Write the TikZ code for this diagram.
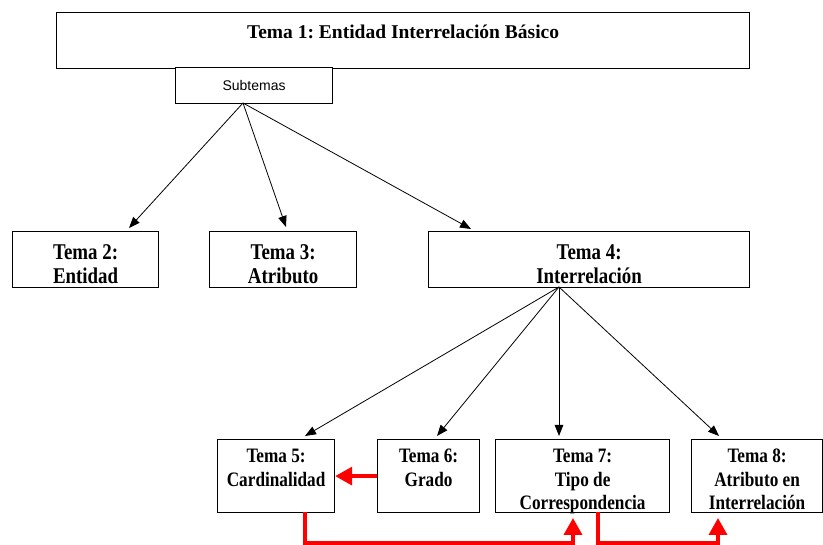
\documentclass[tikz,border=0pt]{standalone}
\usepackage{fontspec}
\setmainfont{Liberation Serif}
\newfontfamily\condserif[FakeStretch=0.84]{Liberation Serif}
\newfontfamily\arialsans{Liberation Sans}
\usetikzlibrary{arrows.meta,calc}
\frenchspacing

\tikzset{
  box/.style={draw=black, line width=1.2pt, inner sep=0pt, anchor=north west, fill=white},
  titletxt/.style={font=\bfseries\fontsize{19.5}{23}\selectfont, inner sep=0pt, anchor=base},
  midtxt/.style={font=\condserif\bfseries\fontsize{22.5}{24}\selectfont, align=center, inner sep=0pt, anchor=north},
  lowtxt/.style={font=\condserif\bfseries\fontsize{20.5}{23.5}\selectfont, align=center, inner sep=0pt, anchor=north},
  subtxt/.style={font=\arialsans\fontsize{14}{16}\selectfont, inner sep=0pt},
  arr/.style={draw=black, line width=0.8pt, -{Triangle[length=11pt,width=8.5pt]}},
  redarr/.style={draw=red, line width=3.5pt, -{Triangle[length=17pt,width=18pt]}},
}

\begin{document}
\begin{tikzpicture}[x=1pt,y=-1pt]
\useasboundingbox (0,0) rectangle (823,545);

% main topic box and its sub-topic label
\node[box, minimum width=693pt, minimum height=56pt] (t1) at (56,12) {};
\node[titletxt] (t1txt) at ($(t1.north)+(0,27)$) {Tema 1: Entidad Interrelación Básico};
\node[box, minimum width=157pt, minimum height=36pt] (sub) at (175,67) {};
\node[subtxt] (subtxt) at (sub.center) {Subtemas};

% second level
\node[box, minimum width=146pt, minimum height=56pt] (t2) at (12,231) {};
\node[midtxt] (t2txt) at ($(t2.north)+(0,13)$) {Tema 2:\\Entidad};
\node[box, minimum width=147pt, minimum height=56pt] (t3) at (209,231) {};
\node[midtxt] (t3txt) at ($(t3.north)+(0,13)$) {Tema 3:\\Atributo};
\node[box, minimum width=321pt, minimum height=56pt] (t4) at (428,231) {};
\node[midtxt] (t4txt) at ($(t4.north)+(0,13)$) {Tema 4:\\Interrelación};

% third level
\node[box, minimum width=117pt, minimum height=73pt] (t5) at (217,439) {};
\node[lowtxt] (t5txt) at ($(t5.north)+(0,10)$) {Tema 5:\\Cardinalidad};
\node[box, minimum width=102pt, minimum height=73pt] (t6) at (377,439) {};
\node[lowtxt] (t6txt) at ($(t6.north)+(0,10)$) {Tema 6:\\Grado};
\node[box, minimum width=174pt, minimum height=73pt] (t7) at (495,439) {};
\node[lowtxt] (t7txt) at ($(t7.north)+(0,10)$) {Tema 7:\\Tipo de\\Correspondencia};
\node[box, minimum width=131pt, minimum height=73pt] (t8) at (691,439) {};
\node[lowtxt] (t8txt) at ($(t8.north)+(0,10)$) {Tema 8:\\Atributo en\\Interrelación};

% connector end points
\coordinate (s0) at (243,103);
\coordinate (a2) at (129,228);
\coordinate (a3) at (286,227);
\coordinate (a4) at (471,229);
\coordinate (s4) at (559,287);
\coordinate (a5) at (305,436);
\coordinate (a6) at (437,436);
\coordinate (a7) at (559,436);
\coordinate (a8) at (719,436);

\draw[arr] (s0) -- (a2);
\draw[arr] (s0) -- (a3);
\draw[arr] (s0) -- (a4);
\draw[arr] (s4) -- (a5);
\draw[arr] (s4) -- (a6);
\draw[arr] (s4) -- (a7);
\draw[arr] (s4) -- (a8);

% red precedence links
\coordinate (r5) at (305,512);
\coordinate (r7in) at (573,518);
\coordinate (r7out) at (598,512);
\coordinate (r8in) at (718,518);
\draw[redarr] (t6.west) -- (t5.east);
\draw[redarr] (r5) |- ($(r7in)+(0,25)$) -- (r7in);
\draw[redarr] (r7out) |- ($(r8in)+(0,25)$) -- (r8in);
\end{tikzpicture}
\end{document}
